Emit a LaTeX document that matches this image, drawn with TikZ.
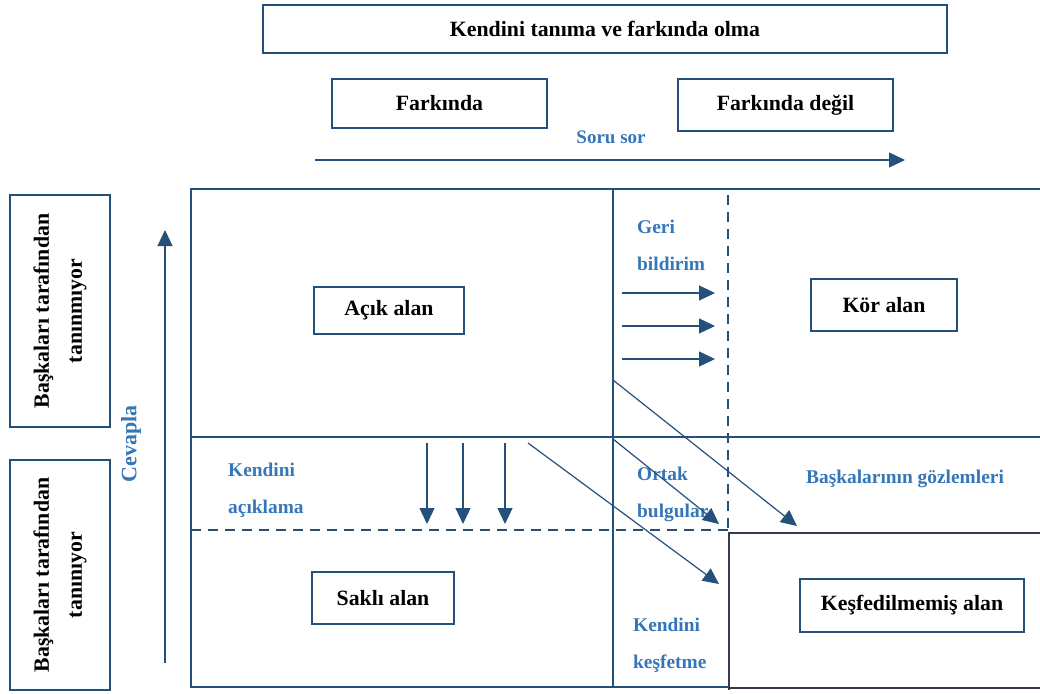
\documentclass[tikz,border=0pt]{standalone}
\usepackage{fontspec}
\setmainfont{Liberation Serif}
\usetikzlibrary{arrows.meta,positioning}

\definecolor{framecol}{RGB}{38,80,124}
\definecolor{txtblue}{RGB}{52,118,184}
\definecolor{darkline}{RGB}{50,60,78}

\tikzset{
  boxtxt/.style={draw=framecol, line width=2.2pt, inner sep=0pt, align=center,
    font=\bfseries\fontsize{21.8}{33}\selectfont},
  bluetxt/.style={text=txtblue, inner sep=0pt, align=left,
    font=\bfseries\fontsize{19.4}{37}\selectfont},
  arr/.style={draw=framecol, line width=1.2pt, -{Triangle[length=16pt,width=15pt]}},
  gridline/.style={draw=framecol, line width=1.8pt},
  dashline/.style={draw=framecol, line width=2pt, dash pattern=on 10pt off 7pt},
}

\begin{document}
\begin{tikzpicture}[x=1pt,y=-1pt]
\useasboundingbox (0,0) rectangle (1040,693);

% header boxes
\node[boxtxt, minimum width=684, minimum height=48] (title) at (605,29) {Kendini tanıma ve farkında olma};
\node[boxtxt, minimum width=215, minimum height=49] (aware) at (439.5,103.5) {Farkında};
\node[boxtxt, minimum width=215, minimum height=52] (unaware) at (785.5,105) {Farkında değil};
\node[bluetxt, font=\bfseries\fontsize{19}{22}\selectfont] (ask) at (611,137) {Soru sor};
\coordinate (asks) at (315,160);
\coordinate (aske) at (905,160);
\draw[arr] (asks) -- (aske);

% side boxes
\node[boxtxt, rotate=90, minimum width=232, minimum height=100] (unknown) at (60,311) {Başkaları tarafından\\tanınmıyor};
\node[boxtxt, rotate=90, minimum width=230, minimum height=100] (known) at (60,575) {Başkaları tarafından\\tanınıyor};
\node[bluetxt, rotate=90, font=\bfseries\fontsize{22}{26}\selectfont] (reply) at (131,444) {Cevapla};
\coordinate (replys) at (165,663);
\coordinate (replye) at (165,230);
\draw[arr] (replys) -- (replye);

% window grid
\draw[gridline] (1040,189) -- (191,189) -- (191,687) -- (729,687);
\draw[gridline] (613,189) -- (613,687);
\draw[gridline] (191,437) -- (1040,437);
\draw[dashline] (728,195) -- (728,530);
\draw[dashline] (191,530) -- (728,530);
\draw[draw=darkline, line width=2pt] (1040,533) -- (729,533) -- (729,690);
\draw[draw=darkline, line width=2.6pt] (729,688) -- (1040,688);

% areas
\node[boxtxt, minimum width=150, minimum height=47] (open) at (389,310.5) {Açık alan};
\node[boxtxt, minimum width=146, minimum height=52] (blind) at (884,305) {Kör alan};
\node[boxtxt, minimum width=142, minimum height=52] (hidden) at (383,598) {Saklı alan};
\node[boxtxt, minimum width=224, minimum height=53] (unknownarea) at (912,605.5) {Keşfedilmemiş alan};

% labels
\node[bluetxt, anchor=north west] (feedback) at (637,220) {Geri\\bildirim};
\node[bluetxt, anchor=north west] (disclose) at (228,463) {Kendini\\açıklama};
\node[bluetxt, anchor=north west] (shared) at (637,467) {Ortak\\bulgular};
\node[bluetxt, anchor=north west] (discover) at (633,618) {Kendini\\keşfetme};
\node[bluetxt] (observe) at (905,479) {Başkalarının gözlemleri};

% feedback arrows
\foreach \i/\y in {1/293,2/326,3/359} {
  \coordinate (fb\i s) at (622,\y);
  \coordinate (fb\i e) at (715,\y);
  \draw[arr] (fb\i s) -- (fb\i e);
}
% disclosure arrows
\foreach \i/\x in {1/427,2/463,3/505} {
  \coordinate (ds\i s) at (\x,443);
  \coordinate (ds\i e) at (\x,524);
  \draw[arr] (ds\i s) -- (ds\i e);
}
% diagonal arrows
\coordinate (dg1s) at (528,443);
\coordinate (dg1e) at (719,584);
\coordinate (dg2s) at (613,439);
\coordinate (dg2e) at (719,524);
\coordinate (dg3s) at (613,380);
\coordinate (dg3e) at (797,526);
\draw[arr] (dg1s) -- (dg1e);
\draw[arr] (dg2s) -- (dg2e);
\draw[arr] (dg3s) -- (dg3e);
\end{tikzpicture}
\end{document}
